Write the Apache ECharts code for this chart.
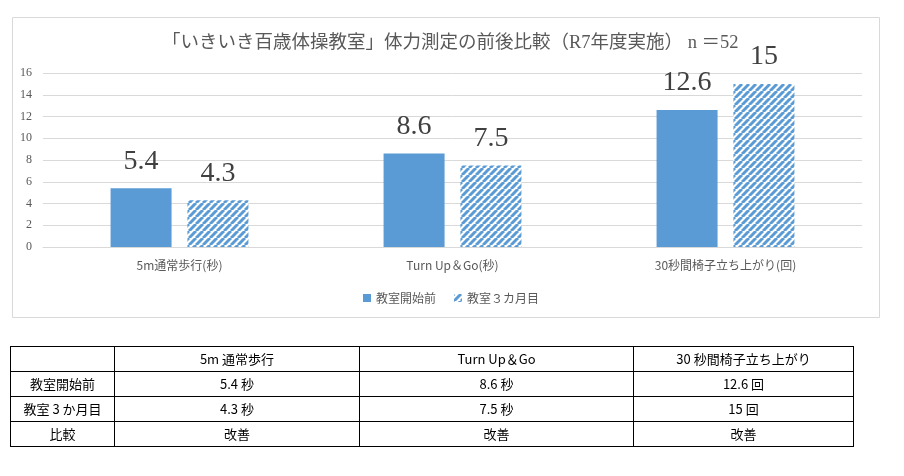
<!DOCTYPE html>
<html>
<head>
<meta charset="utf-8">
<script src="https://cdn.jsdelivr.net/npm/echarts@6/dist/echarts.min.js"></script>
<style>
  body { margin: 0; background: #fff; }
  #main { position: absolute; left: 0; top: 0; width: 904px; height: 476px; }
  #tbl {
    position: absolute; left: 10px; top: 346px; width: 843px;
    border-collapse: collapse; table-layout: fixed;
    font-family: "Noto Sans CJK JP", sans-serif; font-size: 13px; color: #000;
  }
  #tbl td { border: 1px solid #000; height: 24px; padding: 0; text-align: center; line-height: 24px; }
</style>
</head>
<body>
<div id="main"></div>
<table id="tbl"></table>
<script>
var categories = ['5m通常歩行(秒)', 'Turn Up＆Go(秒)', '30秒間椅子立ち上がり(回)'];
var before = [5.4, 8.6, 12.6];
var after = [4.3, 7.5, 15];
var seriesNames = ['教室開始前', '教室３カ月目'];
var yTicks = [0, 16, 2];

var tableHeads = ['5m 通常歩行', 'Turn Up＆Go', '30 秒間椅子立ち上がり'];
var tableRowNames = ['教室開始前', '教室 3 か月目', '比較'];
var units = ['秒', '秒', '回'];
var compare = ['改善', '改善', '改善'];

// hatch pattern for the second series
var P = 7;
var hatch = document.createElement('canvas');
hatch.width = P; hatch.height = P;
var ctx = hatch.getContext('2d');
ctx.fillStyle = '#fff';
ctx.fillRect(0, 0, P, P);
ctx.strokeStyle = '#5B9BD5';
ctx.lineWidth = 3;
[0, P, 2 * P].forEach(function (s) {
    ctx.beginPath();
    ctx.moveTo(s - P, P);
    ctx.lineTo(s, 0);
    ctx.stroke();
});

var labelStyle = {
    show: true, position: 'top', distance: 13,
    fontFamily: '"Liberation Serif", serif', fontSize: 28, color: '#404040'
};

var chart = echarts.init(document.getElementById('main'), null, {renderer: 'canvas'});
chart.setOption({
    animation: false,
    title: {
        text: '「いきいき百歳体操教室」体力測定の前後比較（R7年度実施） n ＝52',
        left: 157, top: 29,
        textStyle: {
            fontFamily: '"Liberation Serif", "Noto Sans CJK JP", serif',
            fontSize: 18.5, fontWeight: 'normal', color: '#595959'
        }
    },
    graphic: [{
        type: 'rect', left: 10, top: 15, z: -1,
        shape: {width: 867, height: 300},
        style: {fill: 'none', stroke: '#d9d9d9', lineWidth: 1}
    }],
    legend: {
        data: seriesNames, left: 358, top: 287,
        itemWidth: 8, itemHeight: 8, itemGap: 18, icon: 'rect',
        textStyle: {fontFamily: '"Noto Sans CJK JP", sans-serif', fontSize: 12, color: '#595959'}
    },
    grid: {left: 43, right: 42, top: 73, bottom: 229},
    xAxis: {
        type: 'category', data: categories,
        axisLine: {lineStyle: {color: '#d9d9d9'}},
        axisTick: {show: false},
        axisLabel: {margin: 12, fontFamily: '"Noto Sans CJK JP", sans-serif', fontSize: 12, color: '#595959'}
    },
    yAxis: {
        type: 'value', min: yTicks[0], max: yTicks[1], interval: yTicks[2],
        axisLine: {show: false}, axisTick: {show: false},
        splitLine: {lineStyle: {color: '#d9d9d9'}},
        axisLabel: {margin: 11, fontFamily: '"Liberation Serif", serif', fontSize: 12, color: '#595959'}
    },
    series: [{
        name: seriesNames[0], type: 'bar', data: before,
        barWidth: 61, barGap: '26%',
        itemStyle: {color: '#5B9BD5'},
        label: labelStyle
    }, {
        name: seriesNames[1], type: 'bar', data: after,
        barWidth: 61,
        itemStyle: {color: {image: hatch, repeat: 'repeat'}},
        label: labelStyle
    }]
});

// table under the chart
var widths = [104, 245, 274, 220];
var html = '<colgroup>' + widths.map(function (w) { return '<col style="width:' + w + 'px">'; }).join('') + '</colgroup>';
html += '<tr><td></td>' + tableHeads.map(function (h) { return '<td>' + h + '</td>'; }).join('') + '</tr>';
html += '<tr><td>' + tableRowNames[0] + '</td>' + before.map(function (v, i) { return '<td>' + v + ' ' + units[i] + '</td>'; }).join('') + '</tr>';
html += '<tr><td>' + tableRowNames[1] + '</td>' + after.map(function (v, i) { return '<td>' + v + ' ' + units[i] + '</td>'; }).join('') + '</tr>';
html += '<tr><td>' + tableRowNames[2] + '</td>' + compare.map(function (c) { return '<td>' + c + '</td>'; }).join('') + '</tr>';
document.getElementById('tbl').innerHTML = html;
</script>
</body>
</html>
